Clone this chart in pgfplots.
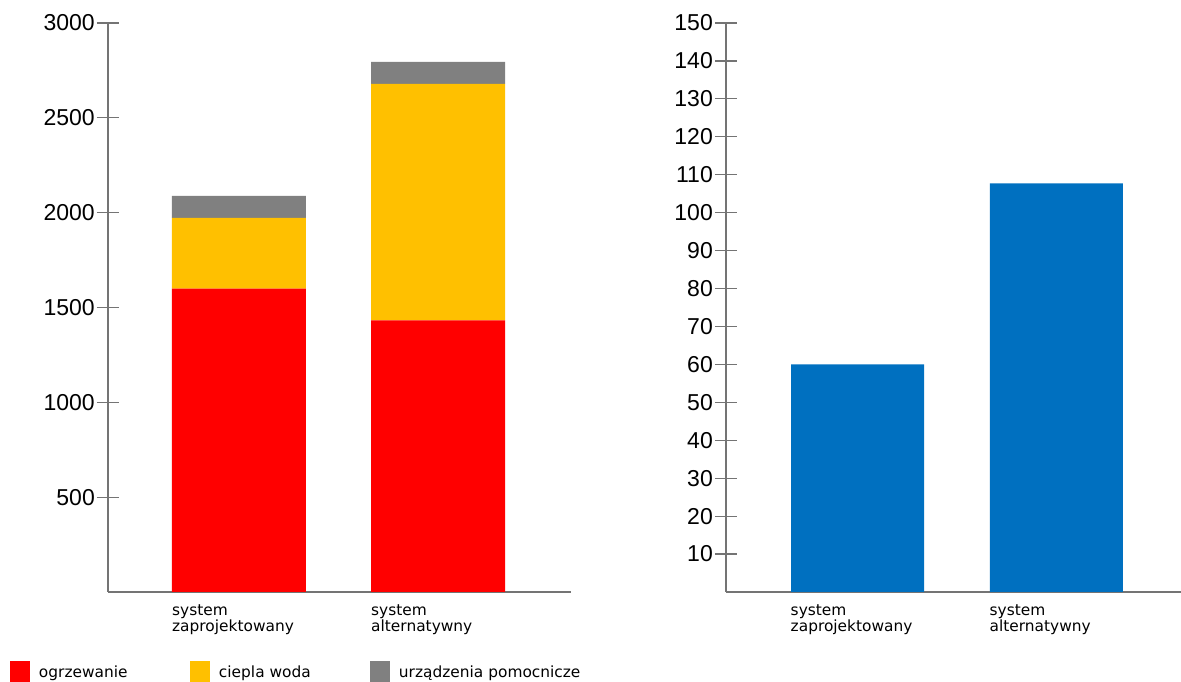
\documentclass[border=0pt]{standalone}
\usepackage{fontspec}
\setmainfont{Liberation Sans}
\newfontfamily\labelfont{DejaVu Sans}
\usepackage{pgfplots}
\pgfplotsset{compat=1.18}

\definecolor{cRed}{HTML}{FF0000}
\definecolor{cYellow}{HTML}{FFC000}
\definecolor{cGray}{HTML}{808080}
\definecolor{cBlue}{HTML}{0070C0}
\definecolor{cAxis}{HTML}{747474}

\pgfplotsset{
  panel/.style={
    scale only axis,
    anchor=south west,
    height=569pt,
    ymin=0,
    axis x line=bottom,
    axis y line=left,
    axis line style={-, cAxis, line width=1.6pt},
    tick align=center,
    major tick length=22pt,
    ytick style={cAxis, line width=1.2pt},
    xtick style={draw=none},
    /pgf/number format/assume math mode=true,
    /pgf/number format/1000 sep={},
    yticklabel style={font=\fontsize{23}{27}\selectfont, inner sep=1pt, xshift=-1pt},
    xticklabel style={font=\labelfont\fontsize{15.4}{16.8}\selectfont,
      anchor=north west, align=left, inner sep=0pt},
    xticklabels={system\\zaprojektowany, system\\alternatywny},
    xtick={-0.3367,0.6633},
    clip=false,
  }
}

\begin{document}
\begin{tikzpicture}
\useasboundingbox (0pt,0pt) rectangle (1181pt,682pt);

% energy use by purpose, stacked
\begin{axis}[
  panel,
  at={(108pt,90pt)},
  width=463pt,
  xmin=-0.658, xmax=1.668,
  ymax=3000,
  ytick={500,1000,...,3000},
  xticklabel style={yshift=-1pt},
  ybar stacked,
  bar width=134pt,
  legend columns=3,
  legend style={
    at={(-0.2117,-0.1582)}, anchor=south west,
    draw=none, inner sep=0pt, outer sep=0pt,
    font=\labelfont\fontsize{15.4}{16.8}\selectfont,
    nodes={inner sep=0pt, anchor=base west},
    /tikz/every odd column/.append style={column sep=8.5pt},
    /tikz/every even column/.append style={column sep=0pt},
  },
  legend cell align=left,
  legend image code/.code={\fill[#1] (0pt,-5pt) rectangle (20.5pt,16pt);},
]
\addplot[draw=none, fill=cRed] coordinates {(0,1600) (1,1432)};
\addplot[draw=none, fill=cYellow] coordinates {(0,372) (1,1247)};
\addplot[draw=none, fill=cGray] coordinates {(0,117) (1,116)};
\legend{\makebox[151pt][l]{ogrzewanie}, \makebox[151pt][l]{ciepla woda}, urządzenia pomocnicze}
\end{axis}

% second panel
\begin{axis}[
  panel,
  at={(726pt,90pt)},
  width=455pt,
  xmin=-0.661, xmax=1.626,
  ymax=150,
  ytick={10,20,...,150},
  xticklabel style={yshift=10pt},
  ybar,
  bar width=133pt,
]
\addplot[draw=none, fill=cBlue] coordinates {(0,60) (1,107.7)};
\end{axis}
\end{tikzpicture}
\end{document}
